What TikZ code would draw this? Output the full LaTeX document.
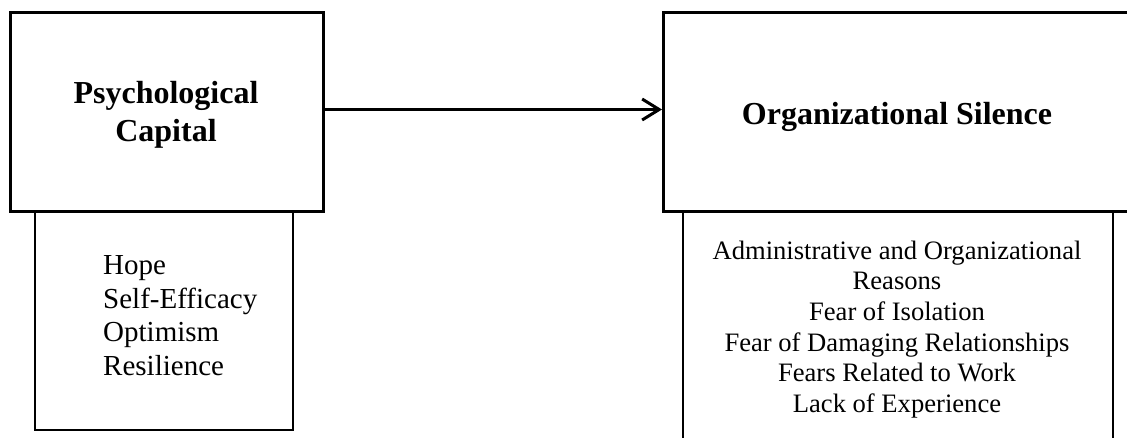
\documentclass[tikz,border=0pt]{standalone}
\usepackage{fontspec}
\setmainfont{Liberation Serif}
\usetikzlibrary{arrows.meta}
\begin{document}
\begin{tikzpicture}[x=1pt,y=-1pt,
  mainbox/.style={draw, line width=3pt, fill=white, inner sep=0pt},
  subbox/.style={draw, line width=2pt, inner sep=0pt},
  titletext/.style={font=\fontsize{32}{38}\selectfont\bfseries, align=center, inner sep=0pt},
  lefttext/.style={font=\fontsize{29}{33.5}\selectfont, align=left, inner sep=0pt, anchor=west},
  righttext/.style={font=\fontsize{26.6}{30.6}\selectfont, align=center, inner sep=0pt},
  link/.style={line width=3pt, -{Straight Barb[length=17pt,width=21pt]}}]
\clip (0,0) rectangle (1127,437);
\fill[white] (0,0) rectangle (1127,437);
% lower boxes
\node[subbox, minimum width=258pt, minimum height=218pt] (pcsub) at (164,321) {};
\node[subbox, minimum width=430pt, minimum height=238pt] (ossub) at (898,331) {};
% main boxes
\node[mainbox, minimum width=313pt, minimum height=199pt] (pc) at (167,112) {};
\node[mainbox, minimum width=468.5pt, minimum height=199pt] (os) at (897.75,112) {};
% titles
\node[titletext] (pct) at (166,115) {Psychological\\Capital};
\node[titletext] (ost) at (897,117) {Organizational Silence};
% lists
\node[lefttext] (pcl) at (103,315.7) {Hope\\Self-Efficacy\\Optimism\\Resilience};
\node[righttext] (osl) at (897,329.3) {Administrative and Organizational\\Reasons\\Fear of Isolation\\Fear of Damaging Relationships\\Fears Related to Work\\Lack of Experience};
% connector
\draw[link] ([yshift=2.5pt]pc.east) -- ([yshift=2.5pt]os.west);
\end{tikzpicture}
\end{document}
